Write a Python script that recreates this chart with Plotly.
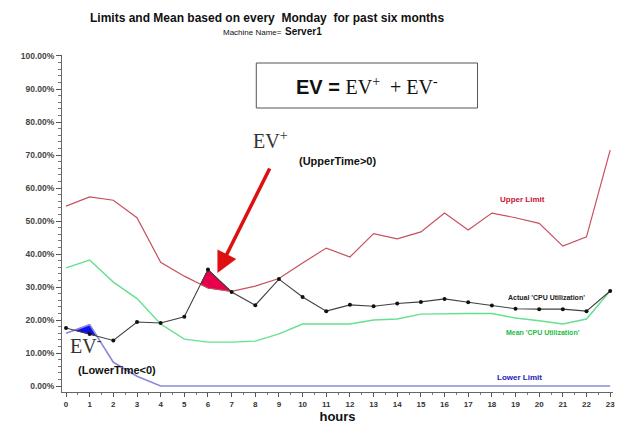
import plotly.graph_objects as go

hours = list(range(24))
upper_limit = [54.5, 57.3, 56.3, 51.0, 37.5, 33.3, 29.7, 28.7, 30.3, 32.6, 37.3, 41.8, 39.1, 46.2, 44.6, 46.7, 52.4, 47.3, 52.4, 51.0, 49.3, 42.4, 45.2, 71.5]
actual_cpu = [17.6, 15.8, 13.8, 19.4, 19.1, 21.0, 35.3, 28.5, 24.5, 32.4, 27.0, 22.7, 24.6, 24.2, 25.0, 25.5, 26.4, 25.4, 24.4, 23.4, 23.3, 23.3, 22.7, 28.8]
mean_cpu = [35.8, 38.2, 31.5, 26.5, 18.8, 14.2, 13.3, 13.3, 13.6, 15.8, 18.8, 18.8, 18.8, 20.0, 20.3, 21.8, 22.0, 22.0, 22.0, 20.6, 19.8, 18.8, 20.3, 28.8]
lower_limit = [16.0, 18.6, 7.2, 3.0, 0, 0, 0, 0, 0, 0, 0, 0, 0, 0, 0, 0, 0, 0, 0, 0, 0, 0, 0, 0]
y_ticks = [0, 10, 20, 30, 40, 50, 60, 70, 80, 90, 100]


def exceed_polys(top, bottom):
    """Polygons where series `top` lies above series `bottom`."""
    polys = []
    cur_x, cur_lo, cur_hi = [], [], []
    for i in range(len(hours) - 1):
        x0, x1 = hours[i], hours[i + 1]
        d0 = top[i] - bottom[i]
        d1 = top[i + 1] - bottom[i + 1]
        if d0 > 0 and not cur_x:
            cur_x, cur_lo, cur_hi = [x0], [bottom[i]], [top[i]]
        if (d0 > 0) != (d1 > 0):
            t = d0 / (d0 - d1)
            xc = x0 + t * (x1 - x0)
            yc = bottom[i] + t * (bottom[i + 1] - bottom[i])
            if d0 <= 0:
                cur_x, cur_lo, cur_hi = [xc, x1], [yc, bottom[i + 1]], [yc, top[i + 1]]
            else:
                cur_x.append(xc); cur_lo.append(yc); cur_hi.append(yc)
                polys.append((cur_x, cur_lo, cur_hi))
                cur_x, cur_lo, cur_hi = [], [], []
        elif d1 > 0:
            cur_x.append(x1); cur_lo.append(bottom[i + 1]); cur_hi.append(top[i + 1])
    if cur_x:
        polys.append((cur_x, cur_lo, cur_hi))
    return polys


fig = go.Figure()

for xs, lo, hi in exceed_polys(actual_cpu, upper_limit):
    fig.add_trace(go.Scatter(x=xs + xs[::-1], y=hi + lo[::-1], fill="toself",
                             fillcolor="#e8004d", line=dict(color="#c0003a", width=1),
                             mode="lines", hoverinfo="skip", showlegend=False))
for xs, lo, hi in exceed_polys(lower_limit, actual_cpu):
    fig.add_trace(go.Scatter(x=xs + xs[::-1], y=hi + lo[::-1], fill="toself",
                             fillcolor="#1010ee", line=dict(color="#1010ee", width=1),
                             mode="lines", hoverinfo="skip", showlegend=False))

fig.add_trace(go.Scatter(x=hours, y=upper_limit, mode="lines",
                         line=dict(color="#c8505e", width=1.2), name="Upper Limit"))
fig.add_trace(go.Scatter(x=hours, y=mean_cpu, mode="lines",
                         line=dict(color="#66e090", width=1.4), name="Mean 'CPU Utilization'"))
fig.add_trace(go.Scatter(x=hours, y=lower_limit, mode="lines",
                         line=dict(color="#8a8ad8", width=1.6), name="Lower Limit"))
fig.add_trace(go.Scatter(x=hours, y=actual_cpu, mode="lines+markers",
                         line=dict(color="#404040", width=1.1),
                         marker=dict(color="#111111", size=4), name="Actual 'CPU Utilization'"))

sans = "Liberation Sans, Arial, sans-serif"
serif = "Liberation Serif, Times New Roman, serif"

fig.update_layout(
    width=623, height=432,
    margin=dict(l=62, r=8, t=55, b=40),
    paper_bgcolor="white", plot_bgcolor="white",
    showlegend=False,
    font=dict(family=sans, color="#222222"),
)
fig.update_xaxes(
    range=[-0.17, 23.12], tickmode="array", tickvals=hours,
    ticktext=[f"<b>{h}</b>" for h in hours],
    ticks="outside", ticklen=4, tickcolor="#555555", tickwidth=1,
    showline=True, linecolor="#666666", linewidth=1, showgrid=False, zeroline=False,
    tickfont=dict(size=8, family=sans, color="#333333"),
    minor=dict(dtick=0.5, tick0=0, ticks="outside", ticklen=2, tickcolor="#777777"),
    title=dict(text="<b>hours</b>", font=dict(size=13, family=sans, color="#111111"), standoff=4),
)
fig.update_yaxes(
    range=[-1.8, 100.3], tickmode="array", tickvals=y_ticks,
    ticktext=[f"<b>{v:.2f}%</b>" for v in y_ticks],
    ticks="outside", ticklen=5, tickcolor="#555555",
    showline=True, linecolor="#666666", linewidth=1, showgrid=False, zeroline=False,
    tickfont=dict(size=8.5, family=sans, color="#444444"),
    minor=dict(dtick=2, tick0=0, ticks="outside", ticklen=3, tickcolor="#777777"),
)


def px(x):
    return (x - 62) / 553


def py(y):
    return (392 - y) / 337


def note(x, y, text, size, family=sans, color="#111111"):
    fig.add_annotation(xref="paper", yref="paper", x=px(x), y=py(y), text=text,
                       xanchor="center", yanchor="middle",
                       font=dict(size=size, family=family, color=color), showarrow=False)


note(268, 18, "<b>Limits and Mean based on every  Monday  for past six months</b>", 12)
note(253, 33, "Machine Name=", 8)
note(304, 32, "<b>Server1</b>", 10)

# EV formula box
fig.add_shape(type="rect", xref="paper", yref="paper",
              x0=px(257), x1=px(479), y0=py(108), y1=py(63),
              line=dict(color="#555555", width=1), fillcolor="white")
note(368, 86, "<b>EV =</b> <span style='font-family:Liberation Serif'>EV<sup>+</sup>  + EV<sup>-</sup></span>", 20)

# EV+ annotation
note(271, 140, "EV<sup>+</sup>", 20, serif, "#333333")
note(338, 161, "<b>(UpperTime>0)</b>", 11)
fig.add_annotation(xref="paper", yref="paper", x=px(218), y=py(273),
                   ax=53, ay=-106, text="", showarrow=True, arrowhead=2,
                   arrowsize=1.2, arrowwidth=3.5, arrowcolor="#dd1111")

# EV- annotation
note(86, 345, "EV<sup>-</sup>", 20, serif, "#333333")
note(117, 370, "<b>(LowerTime<0)</b>", 11)

# series labels
note(524, 199, "<b>Upper Limit</b>", 8, sans, "#cc1030")
note(548, 297, "<b>Actual 'CPU Utilization'</b>", 7, sans, "#222222")
note(545, 332, "<b>Mean 'CPU Utilization'</b>", 7, sans, "#22bb44")
note(521, 377, "<b>Lower Limit</b>", 8, sans, "#2222bb")

fig.write_html("out.html", config={"displayModeBar": False},
               post_script="document.body.style.margin='0px';")
